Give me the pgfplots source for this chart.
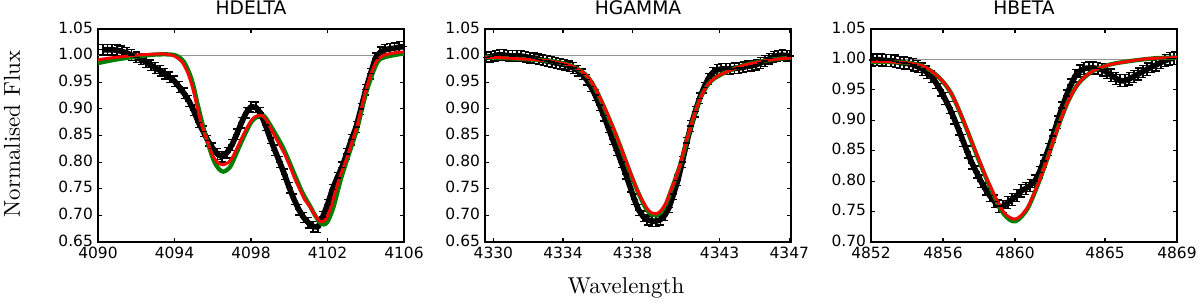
\documentclass[border=0pt]{standalone}
\usepackage{fontspec}
\usepackage{pgfplots}
\pgfplotsset{compat=1.18}
\newfontfamily\dejavu{DejaVu Sans}
\definecolor{mplgreen}{RGB}{0,128,0}

\pgfplotstableread{
x y
4090.25 1.011
4090.50 1.011
4090.75 1.011
4091.00 1.010
4091.25 1.008
4091.50 1.005
4091.75 1.001
4092.00 0.997
4092.25 0.993
4092.50 0.988
4092.75 0.982
4093.00 0.977
4093.25 0.972
4093.50 0.966
4093.75 0.959
4094.00 0.952
4094.25 0.941
4094.50 0.929
4094.75 0.915
4095.00 0.897
4095.25 0.875
4095.50 0.858
4095.75 0.840
4096.00 0.826
4096.25 0.815
4096.50 0.810
4096.75 0.818
4097.00 0.832
4097.25 0.852
4097.50 0.874
4097.75 0.893
4098.00 0.904
4098.25 0.903
4098.50 0.892
4098.75 0.870
4099.00 0.845
4099.25 0.822
4099.50 0.800
4099.75 0.777
4100.00 0.752
4100.25 0.730
4100.50 0.711
4100.75 0.696
4101.00 0.686
4101.25 0.679
4101.50 0.678
4101.75 0.697
4102.00 0.720
4102.25 0.748
4102.50 0.770
4102.75 0.790
4103.00 0.815
4103.25 0.842
4103.50 0.866
4103.75 0.900
4104.00 0.936
4104.25 0.966
4104.50 0.995
4104.75 1.006
4105.00 1.011
4105.25 1.013
4105.50 1.014
4105.75 1.016
4106.00 1.017
}\hdobs

\pgfplotstableread{
x y
4090.00 0.992
4090.50 0.995
4091.00 0.997
4091.50 0.999
4092.00 1.001
4092.50 1.002
4093.00 1.003
4093.50 1.003
4093.85 1.001
4094.10 0.997
4094.37 0.989
4094.60 0.975
4094.80 0.957
4095.00 0.932
4095.16 0.907
4095.40 0.872
4095.60 0.851
4095.80 0.830
4096.03 0.810
4096.30 0.798
4096.55 0.795
4096.80 0.799
4097.00 0.807
4097.25 0.825
4097.51 0.845
4097.75 0.862
4098.03 0.879
4098.25 0.886
4098.47 0.888
4098.70 0.884
4099.00 0.866
4099.30 0.845
4099.69 0.820
4100.00 0.795
4100.30 0.768
4100.56 0.748
4100.80 0.730
4101.08 0.716
4101.35 0.700
4101.60 0.689
4101.75 0.688
4101.95 0.695
4102.20 0.718
4102.40 0.744
4102.70 0.778
4103.00 0.807
4103.30 0.840
4103.56 0.870
4103.80 0.905
4104.00 0.935
4104.30 0.968
4104.57 0.990
4104.90 1.000
4105.30 1.004
4105.70 1.006
4106.00 1.007
}\hdred

\pgfplotstableread{
x y
4090.00 0.986
4091.00 0.993
4092.00 0.998
4093.00 1.002
4093.85 1.002
4094.20 0.998
4094.50 0.988
4094.80 0.965
4095.00 0.942
4095.20 0.910
4095.60 0.853
4096.03 0.805
4096.30 0.788
4096.55 0.782
4096.80 0.787
4097.00 0.797
4097.50 0.838
4098.03 0.876
4098.50 0.888
4098.70 0.886
4099.00 0.870
4099.69 0.826
4100.30 0.775
4100.70 0.742
4101.08 0.718
4101.35 0.700
4101.60 0.687
4101.80 0.683
4102.00 0.688
4102.30 0.714
4102.70 0.768
4103.00 0.802
4103.56 0.864
4104.00 0.928
4104.57 0.985
4105.00 0.997
4106.00 1.004
}\hdgreen

\pgfplotstableread{
x y
4329.60 0.997
4329.85 0.998
4330.10 1.000
4330.35 1.002
4330.60 1.001
4330.85 1.000
4331.10 0.999
4331.35 1.000
4331.60 0.999
4331.85 0.998
4332.10 0.996
4332.35 0.995
4332.60 0.993
4332.85 0.991
4333.10 0.990
4333.35 0.988
4333.60 0.986
4333.85 0.985
4334.10 0.983
4334.35 0.980
4334.60 0.977
4334.85 0.972
4335.10 0.965
4335.35 0.955
4335.60 0.942
4335.85 0.926
4336.10 0.907
4336.35 0.887
4336.60 0.865
4336.85 0.843
4337.10 0.822
4337.35 0.800
4337.60 0.778
4337.85 0.754
4338.10 0.730
4338.35 0.710
4338.60 0.698
4338.85 0.692
4339.10 0.689
4339.35 0.689
4339.60 0.692
4339.85 0.700
4340.10 0.715
4340.35 0.740
4340.60 0.766
4340.85 0.800
4341.10 0.836
4341.35 0.868
4341.60 0.895
4341.85 0.920
4342.10 0.940
4342.35 0.957
4342.60 0.968
4342.85 0.973
4343.10 0.975
4343.35 0.975
4343.60 0.975
4343.85 0.976
4344.10 0.977
4344.35 0.978
4344.60 0.980
4344.85 0.981
4345.10 0.983
4345.35 0.986
4345.60 0.990
4345.85 0.994
4346.10 0.998
4346.35 1.000
4346.60 1.001
4346.85 1.000
4347.05 0.999
}\hgobs

\pgfplotstableread{
x y
4329.50 0.997
4330.50 0.996
4331.50 0.994
4332.50 0.992
4333.20 0.990
4333.70 0.987
4334.20 0.984
4334.60 0.979
4334.95 0.973
4335.25 0.966
4335.50 0.957
4335.80 0.942
4336.10 0.923
4336.60 0.887
4337.05 0.851
4337.50 0.812
4338.00 0.770
4338.30 0.745
4338.60 0.726
4338.90 0.710
4339.15 0.704
4339.35 0.703
4339.60 0.708
4339.90 0.722
4340.16 0.744
4340.45 0.768
4340.74 0.797
4341.00 0.830
4341.31 0.864
4341.60 0.895
4341.89 0.920
4342.20 0.940
4342.47 0.951
4342.85 0.961
4343.24 0.967
4343.80 0.975
4344.40 0.982
4345.10 0.987
4345.90 0.992
4346.50 0.994
4347.10 0.996
}\hgred

\pgfplotstableread{
x y
4329.50 0.997
4331.50 0.994
4333.20 0.990
4334.20 0.984
4334.95 0.973
4335.50 0.957
4336.10 0.922
4337.05 0.850
4338.00 0.768
4338.60 0.723
4338.90 0.707
4339.15 0.701
4339.35 0.700
4339.60 0.705
4339.90 0.720
4340.16 0.742
4340.74 0.796
4341.31 0.863
4341.89 0.920
4342.47 0.951
4343.24 0.967
4344.40 0.982
4345.90 0.992
4347.10 0.996
}\hggreen

\pgfplotstableread{
x y
4852.10 0.999
4852.35 1.000
4852.60 0.999
4852.85 0.998
4853.10 0.998
4853.35 0.997
4853.60 0.995
4853.85 0.994
4854.10 0.993
4854.35 0.991
4854.60 0.988
4854.85 0.984
4855.10 0.979
4855.35 0.972
4855.60 0.962
4855.85 0.950
4856.10 0.936
4856.35 0.921
4856.60 0.904
4856.85 0.886
4857.10 0.867
4857.35 0.848
4857.60 0.830
4857.85 0.815
4858.10 0.800
4858.35 0.787
4858.60 0.776
4858.85 0.767
4859.10 0.759
4859.35 0.758
4859.60 0.765
4859.85 0.770
4860.10 0.776
4860.35 0.784
4860.60 0.788
4860.85 0.793
4861.10 0.800
4861.35 0.814
4861.60 0.833
4861.85 0.852
4862.10 0.874
4862.35 0.897
4862.60 0.920
4862.85 0.940
4863.10 0.958
4863.35 0.973
4863.60 0.981
4863.85 0.985
4864.10 0.986
4864.35 0.986
4864.60 0.985
4864.85 0.983
4865.10 0.979
4865.35 0.974
4865.60 0.969
4865.85 0.965
4866.10 0.965
4866.35 0.968
4866.60 0.972
4866.85 0.976
4867.10 0.980
4867.35 0.984
4867.60 0.988
4867.85 0.991
4868.10 0.995
4868.35 0.998
4868.60 1.001
4868.85 1.002
}\hbobs

\pgfplotstableread{
x y
4852.00 0.997
4853.00 0.996
4853.69 0.995
4854.30 0.993
4854.80 0.990
4855.20 0.984
4855.72 0.972
4856.10 0.960
4856.46 0.944
4856.85 0.920
4857.20 0.895
4857.55 0.868
4857.94 0.840
4858.30 0.813
4858.69 0.788
4859.00 0.768
4859.24 0.755
4859.50 0.745
4859.80 0.739
4860.05 0.738
4860.35 0.744
4860.72 0.758
4861.00 0.776
4861.32 0.799
4861.60 0.820
4861.87 0.843
4862.15 0.868
4862.43 0.892
4862.70 0.914
4862.98 0.933
4863.25 0.948
4863.54 0.961
4863.90 0.972
4864.28 0.980
4864.70 0.986
4865.20 0.991
4865.70 0.994
4866.31 0.997
4867.00 1.000
4867.80 1.002
4869.00 1.003
}\hbred

\pgfplotstableread{
x y
4852.00 0.996
4853.69 0.995
4854.80 0.990
4855.72 0.972
4856.46 0.944
4857.20 0.894
4857.94 0.838
4858.69 0.785
4859.24 0.752
4859.60 0.739
4859.90 0.734
4860.20 0.737
4860.72 0.756
4861.32 0.798
4861.87 0.843
4862.43 0.892
4862.98 0.933
4863.54 0.961
4864.28 0.980
4865.20 0.991
4866.31 0.997
4867.80 1.002
4869.00 1.003
}\hbgreen

\pgfplotsset{
  specax/.style={
    scale only axis, width=229.5pt, height=159.75pt,
    axis line style={line width=0.9pt},
    every tick/.style={black, line width=0.8pt},
    major tick length=3pt,
    tick align=inside,
    xtick pos=both, ytick pos=both,
    tick label style={font=\fontsize{11.6}{13}\dejavu},
    xticklabel style={inner sep=1pt, yshift=-2.8pt},
    yticklabel style={inner sep=1pt, xshift=-2.6pt, yshift=1.1pt},
    title style={font=\fontsize{14}{16}\dejavu, at={(0.5,1)}, anchor=base, yshift=4.7pt},
    clip=true,
  },
  obsband/.style={black, line width=4.2pt, no marks, line join=round},
  obs/.style={black, only marks, mark=-, mark size=2.6pt,
    mark options={line width=1pt, black},
    error bars/.cd, y dir=both, y fixed=0.010,
    error bar style={line width=1.4pt, black},
    error mark options={rotate=90, black, mark size=2.6pt, line width=1pt}},
  grn/.style={mplgreen, line width=3.2pt, smooth, no marks},
  rd/.style={red, line width=2.2pt, smooth, no marks},
  unity/.style={gray!85, line width=0.8pt, no marks},
}

\begin{document}
\begin{tikzpicture}
\path[use as bounding box] (-73.5pt,-48pt) rectangle (826.5pt,181.5pt);

\begin{axis}[specax, at={(0pt,0pt)}, anchor=south west,
  title={HDELTA},
  xmin=4090, xmax=4106, ymin=0.65, ymax=1.05,
  xtick={4090,4094,4098,4102,4106},
  xticklabels={4090,4094,4098,4102,4106},
  ytick={0.65,0.70,0.75,0.80,0.85,0.90,0.95,1.00,1.05},
  yticklabels={0.65,0.70,0.75,0.80,0.85,0.90,0.95,1.00,1.05}]
\addplot[unity] coordinates {(4090,1) (4106,1)};
\addplot[obsband] table {\hdobs};
\addplot[obs] table {\hdobs};
\addplot[grn] table {\hdgreen};
\addplot[rd] table {\hdred};
\end{axis}

\begin{axis}[specax, at={(290.25pt,0pt)}, anchor=south west,
  title={HGAMMA},
  xmin=4329.52, xmax=4347.1, ymin=0.65, ymax=1.05,
  xtick={4330,4334,4338,4343,4347},
  xticklabels={4330,4334,4338,4343,4347},
  ytick={0.65,0.70,0.75,0.80,0.85,0.90,0.95,1.00,1.05},
  yticklabels={0.65,0.70,0.75,0.80,0.85,0.90,0.95,1.00,1.05}]
\addplot[unity] coordinates {(4329.52,1) (4347.1,1)};
\addplot[obsband] table {\hgobs};
\addplot[obs] table {\hgobs};
\addplot[grn] table {\hggreen};
\addplot[rd] table {\hgred};
\end{axis}

\begin{axis}[specax, at={(579.75pt,0pt)}, anchor=south west,
  title={HBETA},
  xmin=4852, xmax=4869, ymin=0.70, ymax=1.05,
  xtick={4852,4856,4860,4865,4869},
  xticklabels={4852,4856,4860,4865,4869},
  ytick={0.70,0.75,0.80,0.85,0.90,0.95,1.00,1.05},
  yticklabels={0.70,0.75,0.80,0.85,0.90,0.95,1.00,1.05}]
\addplot[unity] coordinates {(4852,1) (4869,1)};
\addplot[obsband] table {\hbobs};
\addplot[obs] table {\hbobs};
\addplot[grn] table {\hbgreen};
\addplot[rd] table {\hbred};
\end{axis}

\node[rotate=90, font=\fontsize{10}{12}\selectfont, anchor=center] at (-64.5pt,81pt) {\scalebox{1.72}{Normalised Flux}};
\node[font=\fontsize{10}{12}\selectfont, anchor=base] at (396pt,-39pt) {\scalebox{1.72}{Wavelength}};
\end{tikzpicture}
\end{document}
